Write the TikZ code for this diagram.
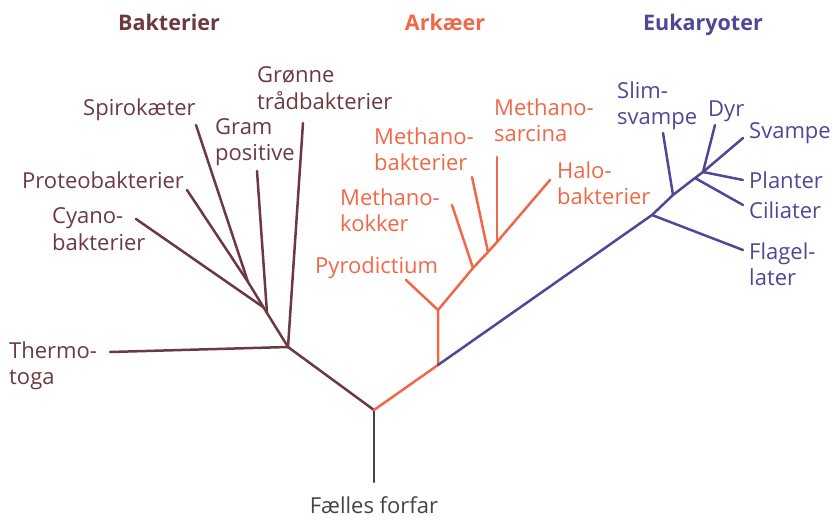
\documentclass[tikz,border=0pt]{standalone}
\usepackage{fontspec}
\setmainfont{Open Sans}
\definecolor{bak}{HTML}{6B3A40}
\definecolor{ark}{HTML}{F06848}
\definecolor{euk}{HTML}{4E4896}
\definecolor{stem}{HTML}{444444}
\begin{document}
\begin{tikzpicture}[x=1pt,y=-1pt,
  br/.style={line width=2.5pt,line cap=round},
  lbl/.style={inner sep=0pt,align=left,font=\fontsize{22}{26.5}\selectfont},
  head/.style={inner sep=0pt,anchor=base,font=\fontsize{21.5}{24}\selectfont\bfseries}]
\useasboundingbox (0,0) rectangle (836,520);
% coordinates
\coordinate (root) at (374,410);
\coordinate (base) at (374,482);
\coordinate (jb) at (288,347);
\coordinate (thermo) at (110,352);
\coordinate (groenne) at (303,123);
\coordinate (jg) at (267,313);
\coordinate (gram) at (257,171);
\coordinate (jc) at (263,307);
\coordinate (cyano) at (136,219);
\coordinate (js) at (248,282);
\coordinate (spiro) at (196,125);
\coordinate (proteo) at (187,190);
\coordinate (ja) at (438,365);
\coordinate (jp) at (438,310);
\coordinate (pyro) at (406,280);
\coordinate (jmk) at (473,268);
\coordinate (mk) at (452,205);
\coordinate (jmb) at (488,252);
\coordinate (mb) at (472,177);
\coordinate (jms) at (497,242);
\coordinate (ms) at (497,157);
\coordinate (halo) at (550,180);
\coordinate (jf) at (652,215);
\coordinate (flag) at (743,250);
\coordinate (jsl) at (673,195);
\coordinate (slim) at (663,133);
\coordinate (jci) at (695,178);
\coordinate (cil) at (743,205);
\coordinate (jd) at (703,172);
\coordinate (dyr) at (715,125);
\coordinate (svp) at (743,138);
\coordinate (pla) at (743,180);
% stem
\draw[br,stem] (base) -- (root);
% bacteria
\draw[br,bak] (root) -- (jb) -- (jg) -- (js);
\draw[br,bak] (jb) -- (thermo);
\draw[br,bak] (jb) -- (groenne);
\draw[br,bak] (jg) -- (gram);
\draw[br,bak] (jc) -- (cyano);
\draw[br,bak] (js) -- (spiro);
\draw[br,bak] (js) -- (proteo);
% archaea
\draw[br,ark] (root) -- (ja) -- (jp) -- (jmk) -- (jmb) -- (jms) -- (halo);
\draw[br,ark] (jp) -- (pyro);
\draw[br,ark] (jmk) -- (mk);
\draw[br,ark] (jmb) -- (mb);
\draw[br,ark] (jms) -- (ms);
% eukaryotes
\draw[br,euk] (ja) -- (jf) -- (jsl) -- (jci) -- (jd) -- (svp);
\draw[br,euk] (jf) -- (flag);
\draw[br,euk] (jsl) -- (slim);
\draw[br,euk] (jci) -- (cil);
\draw[br,euk] (jd) -- (dyr);
\draw[br,euk] (jd) -- (pla);
% headings
\node[head,bak] (hb) at (169,30) {Bakterier};
\node[head,ark] (ha) at (445,30) {Arkæer};
\node[head,euk] (he) at (703,30) {Eukaryoter};
% bacteria labels
\node[lbl,bak,anchor=west] (lgr) at (257,88) {Grønne\\trådbakterier};
\node[lbl,bak,anchor=west] (lsp) at (83,110) {Spirokæter};
\node[lbl,bak,anchor=west] (lgp) at (215,142) {Gram\\positive};
\node[lbl,bak,anchor=west] (lpr) at (22,180) {Proteobakterier};
\node[lbl,bak,anchor=west] (lcy) at (52,229) {Cyano-\\bakterier};
\node[lbl,bak,anchor=west] (lth) at (9,366) {Thermo-\\toga};
% archaea labels
\node[lbl,ark,anchor=west] (lpy) at (315,268) {Pyrodictium};
\node[lbl,ark,anchor=west] (lmk) at (340,210) {Methano-\\kokker};
\node[lbl,ark,anchor=west] (lmb) at (374,149) {Methano-\\bakterier};
\node[lbl,ark,anchor=west] (lms) at (494,120) {Methano-\\sarcina};
\node[lbl,ark,anchor=west] (lha) at (557,183) {Halo-\\bakterier};
% eukaryote labels
\node[lbl,euk,anchor=west] (lsl) at (617,106) {Slim-\\svampe};
\node[lbl,euk,anchor=west] (ldy) at (708,111) {Dyr};
\node[lbl,euk,anchor=west] (lsv) at (749,133) {Svampe};
\node[lbl,euk,anchor=west] (lpl) at (749,180) {Planter};
\node[lbl,euk,anchor=west] (lci) at (749,210) {Ciliater};
\node[lbl,euk,anchor=west] (lfl) at (749,264) {Flagel-\\later};
% root label
\node[lbl,stem] (lff) at (374,505) {Fælles forfar};
\end{tikzpicture}
\end{document}
